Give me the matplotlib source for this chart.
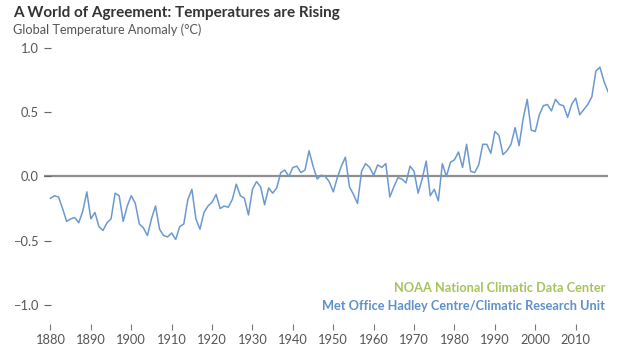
import matplotlib
matplotlib.use("Agg")
import matplotlib.pyplot as plt

plt.rcParams['font.family'] = ['Lato', 'DejaVu Sans']

years = list(range(1880, 2019))
hadcrut = [
    -0.17, -0.15, -0.16, -0.25, -0.35, -0.33, -0.32, -0.36, -0.27, -0.12,   # 1880s
    -0.33, -0.28, -0.39, -0.42, -0.36, -0.33, -0.13, -0.15, -0.35, -0.23,   # 1890s
    -0.15, -0.21, -0.37, -0.40, -0.46, -0.33, -0.23, -0.41, -0.46, -0.47,   # 1900s
    -0.44, -0.49, -0.39, -0.37, -0.18, -0.10, -0.33, -0.41, -0.28, -0.23,   # 1910s
    -0.20, -0.14, -0.25, -0.23, -0.24, -0.18, -0.06, -0.15, -0.17, -0.30,   # 1920s
    -0.10, -0.04, -0.08, -0.22, -0.09, -0.13, -0.09, 0.03, 0.05, 0.00,      # 1930s
    0.07, 0.08, 0.03, 0.05, 0.20, 0.08, -0.02, 0.01, 0.00, -0.04,           # 1940s
    -0.12, -0.01, 0.08, 0.15, -0.08, -0.14, -0.21, 0.04, 0.10, 0.07,        # 1950s
    0.01, 0.09, 0.07, 0.10, -0.16, -0.08, -0.01, -0.02, -0.05, 0.08,        # 1960s
    0.04, -0.13, -0.02, 0.12, -0.15, -0.10, -0.19, 0.10, 0.00, 0.11,        # 1970s
    0.13, 0.19, 0.07, 0.25, 0.04, 0.03, 0.09, 0.25, 0.25, 0.18,             # 1980s
    0.35, 0.32, 0.17, 0.20, 0.25, 0.38, 0.24, 0.45, 0.60, 0.36,             # 1990s
    0.35, 0.48, 0.55, 0.56, 0.51, 0.60, 0.56, 0.55, 0.46, 0.56,             # 2000s
    0.61, 0.48, 0.52, 0.56, 0.62, 0.82, 0.85, 0.74, 0.66,                   # 2010s
]

xticks = [1880, 1890, 1900, 1910, 1920, 1930, 1940, 1950, 1960, 1970, 1980, 1990, 2000, 2010]
yticks = [-1.0, -0.5, 0.0, 0.5, 1.0]
ytick_labels = ['\u22121.0', '\u22120.5', '0.0', '0.5', '1.0']

title = 'A World of Agreement: Temperatures are Rising'
subtitle = 'Global Temperature Anomaly (\u00b0C)'
source_noaa = 'NOAA National Climatic Data Center'
source_met = 'Met Office Hadley Centre/Climatic Research Unit'

W, H = 639, 355
fig = plt.figure(figsize=(W / 100, H / 100), dpi=100)
ax = fig.add_axes([44 / W, 43.6 / H, 563.6 / W, 269.9 / H])

ax.axhline(0, color='#8f8f8f', linewidth=1.6, zorder=1)
ax.plot(years, hadcrut, color='#6b99cf', linewidth=1.1, zorder=2)

ax.set_xlim(1878.4, 2017.9)
ax.set_ylim(-1.05, 1.05)

for s in ax.spines.values():
    s.set_visible(False)
ax.spines['bottom'].set_position(('outward', 9))

ax.set_xticks(xticks)
ax.set_xticklabels([str(t) for t in xticks])
ax.set_yticks(yticks)
ax.set_yticklabels(ytick_labels)

ax.tick_params(axis='x', direction='out', length=4, width=0.8, color='#777777',
               labelsize=9.3, labelcolor='#555555', pad=3)
ax.tick_params(axis='y', direction='in', length=5, width=0.8, color='#666666',
               labelsize=9.3, labelcolor='#555555', pad=4)

fig.text(13 / W, 1 - 17.3 / H, title, fontsize=11, fontweight='bold',
         color='#333333', va='baseline', ha='left')
fig.text(13 / W, 1 - 34 / H, subtitle, fontsize=9.2, color='#555555',
         va='baseline', ha='left')

fig.text(605 / W, 1 - 292 / H, source_noaa, fontsize=9.2, fontweight='bold',
         color='#a6c35c', va='baseline', ha='right')
fig.text(605 / W, 1 - 310 / H, source_met, fontsize=9.2, fontweight='bold',
         color='#5f90c8', va='baseline', ha='right')

fig.savefig('out.png', dpi=100)
